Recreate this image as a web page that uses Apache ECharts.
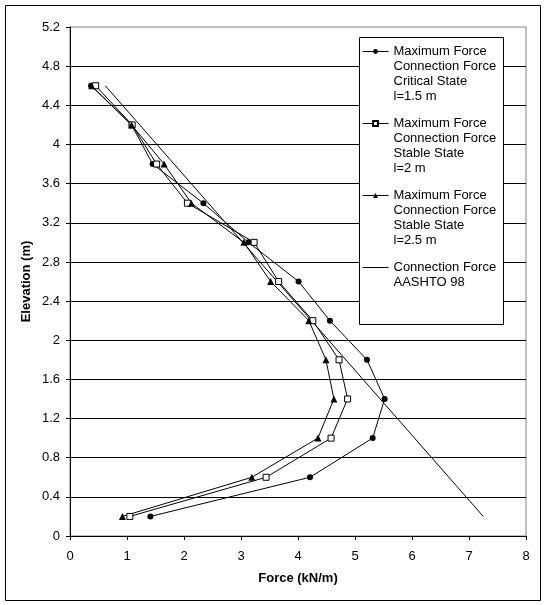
<!DOCTYPE html>
<html>
<head>
<meta charset="utf-8">
<script src="https://cdn.jsdelivr.net/npm/echarts@6/dist/echarts.min.js"></script>
<style>
  html, body { margin: 0; padding: 0; background: #fff; }
  #chart1 { width: 547px; height: 605px; }
</style>
</head>
<body>
<div id="chart1"></div>
<script>
var elevation = [4.6, 4.2, 3.8, 3.4, 3.0, 2.6, 2.2, 1.8, 1.4, 1.0, 0.6, 0.2]
var critical15 = [0.37, 1.08, 1.45, 2.34, 3.13, 4.01, 4.56, 5.21, 5.52, 5.31, 4.21, 1.41]
var stable20 = [0.45, 1.09, 1.52, 2.06, 3.23, 3.66, 4.26, 4.72, 4.87, 4.58, 3.44, 1.05]
var stable25 = [0.38, 1.08, 1.65, 2.13, 3.05, 3.52, 4.19, 4.49, 4.63, 4.35, 3.19, 0.92]
var aashtoElevation = [4.6, 0.2]
var aashto98 = [0.62, 7.25]

var names = [
    "Maximum Force\nConnection Force\nCritical State\nl=1.5 m",
    "Maximum Force\nConnection Force\nStable State\nl=2 m",
    "Maximum Force\nConnection Force\nStable State\nl=2.5 m",
    "Connection Force\nAASHTO 98"
]

// legend text is centred on its icon, so pad with blank lines to put line 1 level with the icon
var legendLabels = {}
legendLabels[names[0]] = "\n\n\n" + names[0]
legendLabels[names[1]] = "\n\n\n" + names[1]
legendLabels[names[2]] = "\n\n\n" + names[2]
legendLabels[names[3]] = "\n\n\n" + names[3] + "\n\n"

function pairs(xs, ys) {
    return xs.map(function (x, i) { return [x, ys[i]] })
}

var font = "'Liberation Sans', Arial, sans-serif"
var chart = echarts.init(document.querySelector("#chart1"))

var lineStyle = { color: "#000", width: 1 }

var option = {
    backgroundColor: "#fff",
    animation: false,
    graphic: [{
        type: "rect",
        shape: { x: 5.5, y: 5.5, width: 535, height: 595 },
        style: { fill: "none", stroke: "#000", lineWidth: 1 },
        z: -1
    }, {
        type: "rect",
        shape: { x: 359.5, y: 37.5, width: 144, height: 287 },
        style: { fill: "#fff", stroke: "#000", lineWidth: 1 },
        z: 5
    }],
    grid: {
        left: 70, top: 27, right: 21, bottom: 69,
        show: true, borderColor: "#808080", borderWidth: 1
    },
    legend: {
        orient: "vertical",
        left: 362, top: -1,
        padding: 0,
        itemWidth: 26, itemHeight: 6,
        itemGap: -33,
        z: 10,
        lineStyle: { width: 1 },
        formatter: function (name) { return legendLabels[name] },
        textStyle: { fontFamily: font, fontSize: 13, color: "#000", lineHeight: 15 },
        data: [
            { name: names[0] },
            { name: names[1] },
            { name: names[2] },
            { name: names[3], itemStyle: { color: "rgba(0,0,0,0)", borderWidth: 0 } }
        ]
    },
    xAxis: {
        type: "value",
        min: 0, max: 8, interval: 1,
        name: "Force (kN/m)",
        nameLocation: "middle",
        nameGap: 36,
        nameMoveOverlap: false,
        nameTextStyle: { fontFamily: font, fontSize: 13, fontWeight: "bold", color: "#000" },
        axisLine: { lineStyle: { color: "#000" } },
        axisTick: { show: true, length: 4, lineStyle: { color: "#000" } },
        axisLabel: { fontFamily: font, fontSize: 13, color: "#000", margin: 14 },
        splitLine: { show: false }
    },
    yAxis: {
        type: "value",
        min: 0, max: 5.2, interval: 0.4,
        name: "Elevation (m)",
        nameLocation: "middle",
        nameGap: 37,
        nameMoveOverlap: false,
        nameTextStyle: { fontFamily: font, fontSize: 13, fontWeight: "bold", color: "#000" },
        axisLine: { show: true, lineStyle: { color: "#000" } },
        axisTick: { show: true, length: 4, lineStyle: { color: "#000" } },
        axisLabel: { fontFamily: font, fontSize: 13, color: "#000", margin: 10 },
        splitLine: { show: true, showMaxLine: false, lineStyle: { color: "#000", width: 1 } }
    },
    series: [{
        name: names[0],
        type: "line",
        data: pairs(critical15, elevation),
        symbol: "circle", symbolSize: 6,
        itemStyle: { color: "#000" },
        lineStyle: lineStyle
    }, {
        name: names[1],
        type: "line",
        data: pairs(stable20, elevation),
        symbol: "rect", symbolSize: 6,
        itemStyle: { color: "#fff", borderColor: "#000", borderWidth: 1 },
        lineStyle: lineStyle
    }, {
        name: names[2],
        type: "line",
        data: pairs(stable25, elevation),
        symbol: "triangle", symbolSize: 7,
        itemStyle: { color: "#000" },
        lineStyle: lineStyle
    }, {
        name: names[3],
        type: "line",
        data: pairs(aashto98, aashtoElevation),
        symbol: "none",
        itemStyle: { color: "#000" },
        lineStyle: lineStyle
    }]
}

chart.setOption(option)
</script>
</body>
</html>
